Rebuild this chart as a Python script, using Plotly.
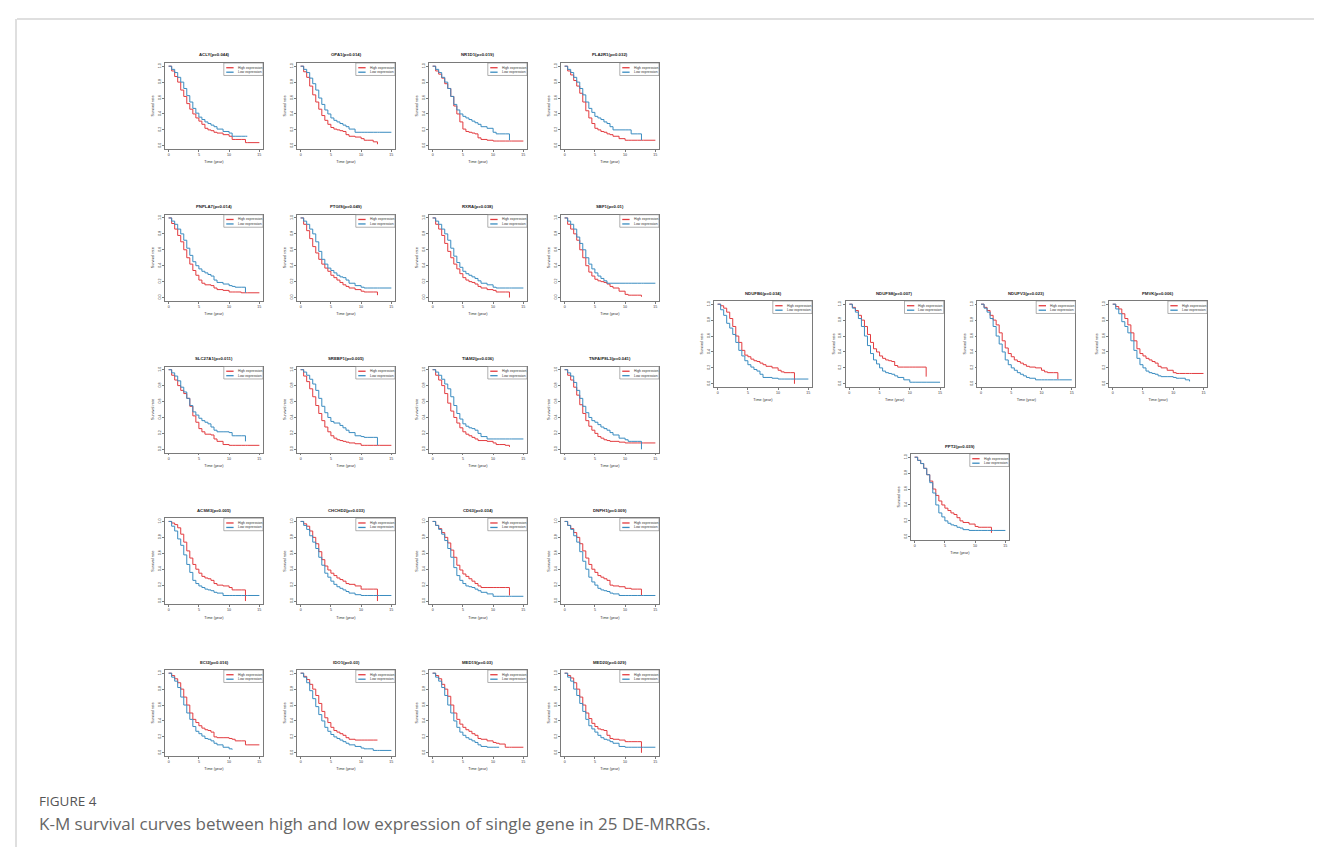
import plotly.graph_objects as go

W, H = 1322, 847

# common time grid (years) on which survival values were read
G = [0, 0.5, 1, 1.5, 2, 2.5, 3, 3.5, 4, 4.5, 5, 5.5, 6, 6.5, 7, 7.5, 8, 9, 10, 10.5, 11, 12, 12.7, 13, 15]

genes = ["ACLY", "OPA1", "NR1D1", "PLA2R1",
         "PNPLA7", "PTGIS", "RXRA", "SBF1",
         "SLC27A1", "SREBF1", "TIAM2", "TNFAIP8L3",
         "ACSM3", "CHCHD2", "CD63", "DNPH1",
         "ECI2", "IDO1", "MED19", "MED20",
         "NDUFB6", "NDUFS8", "NDUFV3", "PMVK", "PPT2"]
pvals = ["0.044", "0.014", "0.019", "0.032",
         "0.014", "0.049", "0.038", "0.01",
         "0.011", "0.005", "0.036", "0.041",
         "0.005", "0.033", "0.034", "0.009",
         "0.016", "0.03", "0.03", "0.029",
         "0.034", "0.007", "0.023", "0.006", "0.039"]

ACLY_high = [1, 0.94, 0.87, 0.80, 0.70, 0.62, 0.53, 0.46, 0.40, 0.35, 0.31, 0.27, 0.22, 0.20, 0.19, 0.17, 0.16, 0.14, 0.12, 0.08, 0.08, 0.08, 0.04, 0.04, 0.04]
ACLY_low = [1, 0.96, 0.92, 0.86, 0.80, 0.72, 0.63, 0.55, 0.47, 0.41, 0.36, 0.33, 0.30, 0.28, 0.26, 0.24, 0.21, 0.18, 0.16, 0.12, 0.12, 0.12, 0.12, 0.12]
OPA1_high = [1, 0.93, 0.86, 0.75, 0.64, 0.55, 0.46, 0.38, 0.32, 0.27, 0.23, 0.21, 0.20, 0.19, 0.18, 0.14, 0.12, 0.11, 0.09, 0.07, 0.07, 0.05, 0.02]
OPA1_low = [1, 0.96, 0.92, 0.85, 0.78, 0.70, 0.60, 0.52, 0.45, 0.40, 0.35, 0.32, 0.30, 0.28, 0.26, 0.24, 0.21, 0.17, 0.17, 0.17, 0.17, 0.17, 0.17, 0.17, 0.17]
NR1D1_high = [1, 0.94, 0.90, 0.85, 0.78, 0.72, 0.62, 0.50, 0.40, 0.30, 0.21, 0.18, 0.17, 0.16, 0.15, 0.10, 0.08, 0.07, 0.06, 0.06, 0.06, 0.06, 0.06, 0.06, 0.06]
NR1D1_low = [1, 0.96, 0.92, 0.86, 0.80, 0.72, 0.62, 0.52, 0.45, 0.40, 0.37, 0.35, 0.33, 0.31, 0.29, 0.27, 0.24, 0.22, 0.17, 0.15, 0.15, 0.15, 0.07]
PLA2R1_high = [1, 0.94, 0.89, 0.82, 0.75, 0.66, 0.55, 0.44, 0.35, 0.28, 0.22, 0.20, 0.18, 0.17, 0.15, 0.14, 0.12, 0.09, 0.07, 0.07, 0.07, 0.07, 0.07, 0.07, 0.07]
PLA2R1_low = [1, 0.96, 0.92, 0.86, 0.80, 0.72, 0.64, 0.55, 0.47, 0.42, 0.37, 0.35, 0.33, 0.30, 0.28, 0.24, 0.20, 0.20, 0.20, 0.20, 0.15, 0.15, 0.07]
PNPLA7_high = [1, 0.93, 0.86, 0.78, 0.70, 0.60, 0.50, 0.42, 0.34, 0.28, 0.22, 0.18, 0.16, 0.16, 0.15, 0.12, 0.10, 0.09, 0.07, 0.07, 0.07, 0.06, 0.06, 0.06, 0.06]
PNPLA7_low = [1, 0.96, 0.92, 0.86, 0.80, 0.72, 0.62, 0.53, 0.45, 0.40, 0.36, 0.33, 0.31, 0.29, 0.27, 0.22, 0.19, 0.17, 0.15, 0.14, 0.13, 0.13, 0.06]
PTGIS_high = [1, 0.92, 0.84, 0.74, 0.64, 0.56, 0.48, 0.42, 0.37, 0.33, 0.28, 0.25, 0.22, 0.19, 0.16, 0.14, 0.12, 0.10, 0.08, 0.07, 0.07, 0.07, 0.03]
PTGIS_low = [1, 0.96, 0.92, 0.86, 0.80, 0.70, 0.58, 0.48, 0.42, 0.37, 0.34, 0.31, 0.28, 0.26, 0.25, 0.22, 0.18, 0.15, 0.13, 0.12, 0.12, 0.12, 0.12, 0.12, 0.12]
RXRA_high = [1, 0.92, 0.86, 0.78, 0.68, 0.58, 0.50, 0.42, 0.36, 0.30, 0.25, 0.22, 0.20, 0.19, 0.17, 0.14, 0.12, 0.10, 0.09, 0.07, 0.07, 0.07, 0.0]
RXRA_low = [1, 0.96, 0.92, 0.86, 0.80, 0.72, 0.62, 0.52, 0.44, 0.38, 0.33, 0.30, 0.28, 0.26, 0.24, 0.21, 0.18, 0.16, 0.13, 0.12, 0.12, 0.12, 0.12, 0.12, 0.12]
SBF1_high = [1, 0.92, 0.86, 0.80, 0.72, 0.60, 0.50, 0.40, 0.32, 0.27, 0.23, 0.21, 0.20, 0.19, 0.17, 0.14, 0.12, 0.08, 0.04, 0.03, 0.03, 0.03, 0.01]
SBF1_low = [1, 0.96, 0.92, 0.86, 0.76, 0.68, 0.60, 0.50, 0.42, 0.36, 0.31, 0.27, 0.24, 0.21, 0.18, 0.18, 0.18, 0.18, 0.18, 0.18, 0.18, 0.18, 0.18, 0.18, 0.18]
SLC27A1_high = [1, 0.93, 0.87, 0.80, 0.74, 0.70, 0.64, 0.54, 0.42, 0.34, 0.26, 0.22, 0.19, 0.19, 0.18, 0.13, 0.10, 0.06, 0.05, 0.05, 0.05, 0.05, 0.05, 0.05, 0.05]
SLC27A1_low = [1, 0.96, 0.92, 0.86, 0.78, 0.72, 0.64, 0.55, 0.47, 0.43, 0.39, 0.36, 0.34, 0.32, 0.28, 0.24, 0.22, 0.22, 0.21, 0.17, 0.17, 0.17, 0.10]
SREBF1_high = [1, 0.92, 0.85, 0.76, 0.66, 0.55, 0.45, 0.36, 0.28, 0.22, 0.17, 0.14, 0.12, 0.11, 0.10, 0.09, 0.08, 0.07, 0.05, 0.05, 0.05, 0.05, 0.05, 0.05, 0.05]
SREBF1_low = [1, 0.97, 0.93, 0.88, 0.82, 0.74, 0.64, 0.54, 0.46, 0.40, 0.35, 0.33, 0.33, 0.30, 0.27, 0.24, 0.21, 0.17, 0.16, 0.15, 0.15, 0.15, 0.05]
TIAM2_high = [1, 0.93, 0.87, 0.80, 0.70, 0.58, 0.48, 0.40, 0.33, 0.27, 0.22, 0.19, 0.17, 0.15, 0.13, 0.11, 0.11, 0.10, 0.08, 0.06, 0.06, 0.05, 0.03]
TIAM2_low = [1, 0.97, 0.93, 0.88, 0.82, 0.76, 0.66, 0.55, 0.45, 0.38, 0.32, 0.29, 0.27, 0.26, 0.24, 0.20, 0.16, 0.13, 0.13, 0.13, 0.13, 0.13, 0.13, 0.13, 0.13]
TNFAIP8L3_high = [1, 0.93, 0.87, 0.78, 0.68, 0.56, 0.45, 0.36, 0.29, 0.24, 0.20, 0.16, 0.14, 0.12, 0.11, 0.10, 0.10, 0.09, 0.08, 0.08, 0.08, 0.08, 0.08, 0.08, 0.08]
TNFAIP8L3_low = [1, 0.96, 0.92, 0.84, 0.74, 0.64, 0.54, 0.46, 0.40, 0.36, 0.34, 0.31, 0.28, 0.26, 0.24, 0.21, 0.18, 0.14, 0.12, 0.10, 0.10, 0.10, 0.0]
ACSM3_high = [1, 0.98, 0.96, 0.92, 0.84, 0.74, 0.63, 0.54, 0.46, 0.40, 0.35, 0.31, 0.29, 0.28, 0.26, 0.22, 0.20, 0.19, 0.17, 0.14, 0.14, 0.14, 0.0]
ACSM3_low = [1, 0.94, 0.88, 0.78, 0.70, 0.58, 0.46, 0.36, 0.26, 0.22, 0.19, 0.17, 0.15, 0.14, 0.13, 0.11, 0.10, 0.07, 0.07, 0.07, 0.07, 0.07, 0.07, 0.07, 0.07]
CHCHD2_high = [1, 0.97, 0.94, 0.88, 0.80, 0.72, 0.62, 0.52, 0.44, 0.39, 0.35, 0.32, 0.29, 0.27, 0.25, 0.22, 0.21, 0.19, 0.15, 0.15, 0.15, 0.15, 0.0]
CHCHD2_low = [1, 0.95, 0.90, 0.82, 0.74, 0.66, 0.55, 0.45, 0.35, 0.30, 0.25, 0.21, 0.18, 0.16, 0.14, 0.12, 0.10, 0.08, 0.07, 0.07, 0.07, 0.07, 0.07, 0.07, 0.07]
CD63_high = [1, 0.95, 0.91, 0.86, 0.80, 0.73, 0.64, 0.55, 0.45, 0.39, 0.34, 0.31, 0.28, 0.25, 0.22, 0.19, 0.17, 0.17, 0.17, 0.17, 0.17, 0.17, 0.07]
CD63_low = [1, 0.95, 0.90, 0.84, 0.76, 0.66, 0.55, 0.42, 0.32, 0.26, 0.22, 0.19, 0.18, 0.17, 0.15, 0.13, 0.11, 0.09, 0.06, 0.06, 0.06, 0.06, 0.06, 0.06, 0.06]
DNPH1_high = [1, 0.95, 0.91, 0.86, 0.80, 0.72, 0.63, 0.54, 0.46, 0.40, 0.36, 0.32, 0.30, 0.28, 0.26, 0.20, 0.19, 0.18, 0.16, 0.16, 0.15, 0.15, 0.07]
DNPH1_low = [1, 0.95, 0.90, 0.82, 0.74, 0.62, 0.50, 0.40, 0.30, 0.24, 0.20, 0.16, 0.14, 0.13, 0.12, 0.10, 0.09, 0.07, 0.07, 0.07, 0.07, 0.07, 0.07, 0.07, 0.07]
ECI2_high = [1, 0.97, 0.93, 0.88, 0.80, 0.70, 0.60, 0.50, 0.42, 0.38, 0.34, 0.31, 0.29, 0.28, 0.26, 0.20, 0.19, 0.19, 0.18, 0.17, 0.15, 0.15, 0.10, 0.10, 0.10]
ECI2_low = [1, 0.95, 0.90, 0.82, 0.70, 0.60, 0.50, 0.42, 0.33, 0.27, 0.24, 0.21, 0.18, 0.17, 0.15, 0.12, 0.10, 0.07, 0.05, 0.04]
IDO1_high = [1, 0.96, 0.92, 0.86, 0.80, 0.72, 0.62, 0.52, 0.44, 0.38, 0.32, 0.28, 0.26, 0.24, 0.22, 0.19, 0.17, 0.16, 0.16, 0.16, 0.16, 0.16, 0.16]
IDO1_low = [1, 0.95, 0.88, 0.78, 0.68, 0.58, 0.48, 0.40, 0.32, 0.27, 0.23, 0.20, 0.18, 0.16, 0.14, 0.12, 0.10, 0.08, 0.06, 0.05, 0.05, 0.03, 0.03, 0.03, 0.03]
MED19_high = [1, 0.97, 0.93, 0.86, 0.80, 0.71, 0.60, 0.50, 0.42, 0.36, 0.32, 0.29, 0.27, 0.24, 0.22, 0.18, 0.17, 0.15, 0.13, 0.12, 0.11, 0.07, 0.07, 0.07, 0.07]
MED19_low = [1, 0.95, 0.90, 0.82, 0.72, 0.60, 0.50, 0.40, 0.32, 0.26, 0.22, 0.19, 0.17, 0.15, 0.13, 0.10, 0.08, 0.07, 0.07, 0.07, 0.07]
MED20_high = [1, 0.97, 0.94, 0.88, 0.80, 0.70, 0.60, 0.50, 0.43, 0.37, 0.33, 0.30, 0.29, 0.28, 0.22, 0.18, 0.17, 0.16, 0.14, 0.14, 0.14, 0.14, 0.0]
MED20_low = [1, 0.95, 0.90, 0.80, 0.72, 0.62, 0.52, 0.42, 0.34, 0.30, 0.26, 0.22, 0.19, 0.17, 0.16, 0.14, 0.12, 0.08, 0.07, 0.07, 0.07, 0.07, 0.07, 0.07, 0.07]
NDUFB6_high = [1, 0.98, 0.95, 0.90, 0.82, 0.72, 0.60, 0.52, 0.42, 0.36, 0.34, 0.31, 0.29, 0.28, 0.26, 0.24, 0.22, 0.20, 0.17, 0.15, 0.14, 0.14, 0.0]
NDUFB6_low = [1, 0.93, 0.86, 0.76, 0.70, 0.62, 0.52, 0.42, 0.35, 0.29, 0.24, 0.21, 0.18, 0.16, 0.12, 0.08, 0.08, 0.07, 0.06, 0.06, 0.06, 0.06, 0.06, 0.06, 0.06]
NDUFS8_high = [1, 0.96, 0.92, 0.86, 0.80, 0.72, 0.62, 0.52, 0.44, 0.40, 0.35, 0.32, 0.30, 0.29, 0.28, 0.23, 0.21, 0.21, 0.21, 0.21, 0.21, 0.21, 0.09]
NDUFS8_low = [1, 0.95, 0.90, 0.82, 0.72, 0.60, 0.48, 0.38, 0.30, 0.25, 0.20, 0.16, 0.14, 0.13, 0.12, 0.10, 0.08, 0.05, 0.02, 0.02, 0.02, 0.02, 0.02, 0.02, 0.02]
NDUFV3_high = [1, 0.96, 0.92, 0.86, 0.80, 0.74, 0.64, 0.54, 0.45, 0.38, 0.34, 0.30, 0.28, 0.26, 0.24, 0.22, 0.21, 0.20, 0.17, 0.15, 0.14, 0.14, 0.06]
NDUFV3_low = [1, 0.95, 0.90, 0.82, 0.72, 0.60, 0.50, 0.40, 0.30, 0.24, 0.20, 0.17, 0.14, 0.12, 0.10, 0.08, 0.07, 0.05, 0.05, 0.05, 0.05, 0.05, 0.05, 0.05, 0.05]
PMVK_high = [1, 0.97, 0.94, 0.88, 0.82, 0.74, 0.64, 0.54, 0.44, 0.38, 0.35, 0.32, 0.30, 0.28, 0.26, 0.22, 0.20, 0.17, 0.14, 0.13, 0.13, 0.13, 0.13, 0.13, 0.13]
PMVK_low = [1, 0.94, 0.88, 0.78, 0.72, 0.64, 0.54, 0.42, 0.32, 0.24, 0.20, 0.16, 0.14, 0.13, 0.12, 0.10, 0.09, 0.09, 0.08, 0.07, 0.07, 0.05, 0.03]
PPT2_high = [1, 0.96, 0.92, 0.86, 0.78, 0.70, 0.60, 0.52, 0.45, 0.40, 0.36, 0.33, 0.30, 0.28, 0.24, 0.20, 0.18, 0.16, 0.13, 0.12, 0.12, 0.12, 0.05]
PPT2_low = [1, 0.96, 0.92, 0.86, 0.78, 0.68, 0.55, 0.40, 0.30, 0.25, 0.20, 0.17, 0.15, 0.14, 0.12, 0.11, 0.09, 0.08, 0.08, 0.08, 0.08, 0.08, 0.08, 0.08, 0.08]

x_ticks = [0, 5, 10, 15]
y_ticks = [0, 0.2, 0.4, 0.6, 0.8, 1.0]
y_ticktext = ["0.0", "0.2", "0.4", "0.6", "0.8", "1.0"]
legend_labels = ["High expression", "Low expression"]

high_curves = {g: globals()[g + "_high"] for g in genes}
low_curves = {g: globals()[g + "_low"] for g in genes}

RED = "#E23B3F"
BLUE = "#3A8CC0"
FRAME = "#7a7a7a"
TXT = "#333333"

# panel placement (pixels)
PW, PH = 98, 86
boxes = []
for r in range(5):
    for c in range(4):
        boxes.append((157 + 132 * c, 55 + 151.75 * r))
for c in range(4):
    boxes.append((706 + 131.7 * c, 293))
boxes.append((903, 446))

fig = go.Figure()
layout = dict(
    width=W, height=H,
    margin=dict(l=0, r=0, t=0, b=0),
    paper_bgcolor="white", plot_bgcolor="white",
    showlegend=False,
)
annotations = []
shapes = []

for i, g in enumerate(genes):
    n = i + 1
    sfx = "" if n == 1 else str(n)
    left, top = boxes[i]
    x0, x1 = left / W, (left + PW) / W
    y0, y1 = 1 - (top + PH) / H, 1 - top / H
    hi = high_curves[g]
    lo = low_curves[g]
    fig.add_trace(go.Scatter(x=G[:len(hi)], y=hi, mode="lines", line=dict(color=RED, width=1, shape="hv"),
                             xaxis="x" + sfx, yaxis="y" + sfx, hoverinfo="skip"))
    fig.add_trace(go.Scatter(x=G[:len(lo)], y=lo, mode="lines", line=dict(color=BLUE, width=1, shape="hv"),
                             xaxis="x" + sfx, yaxis="y" + sfx, hoverinfo="skip"))
    layout["xaxis" + sfx] = dict(
        domain=[x0, x1], anchor="y" + sfx, range=[-0.6, 15.6],
        tickvals=x_ticks, ticks="outside", ticklen=2, tickwidth=0.6, tickcolor=FRAME,
        showline=True, mirror=True, linecolor=FRAME, linewidth=0.8,
        showgrid=False, zeroline=False,
        tickfont=dict(size=3.6, color=TXT, family="Liberation Sans"),
        title=dict(text="Time (year)", font=dict(size=3.8, color=TXT, family="Liberation Sans"), standoff=4),
    )
    layout["yaxis" + sfx] = dict(
        domain=[y0, y1], anchor="x" + sfx, range=[-0.04, 1.04],
        tickvals=y_ticks, ticktext=y_ticktext, tickangle=-90,
        ticks="outside", ticklen=2, tickwidth=0.6, tickcolor=FRAME,
        showline=True, mirror=True, linecolor=FRAME, linewidth=0.8,
        showgrid=False, zeroline=False,
        tickfont=dict(size=3.6, color=TXT, family="Liberation Sans"),
        title=dict(text="Survival rate", font=dict(size=3.8, color=TXT, family="Liberation Sans"), standoff=3),
    )
    # panel title
    annotations.append(dict(
        text="<b>%s(p=%s)</b>" % (g, pvals[i]),
        xref="paper", yref="paper", x=(left + PW / 2) / W, y=1 - (top - 8) / H,
        showarrow=False, font=dict(size=4.3, color="#222", family="Liberation Sans"),
        xanchor="center", yanchor="middle"))
    # legend box
    xd, yd = "x" + sfx + " domain", "y" + sfx + " domain"
    shapes.append(dict(type="rect", xref=xd, yref=yd, x0=0.60, x1=1.0, y0=0.855, y1=1.0,
                       line=dict(color=FRAME, width=0.6), fillcolor="white", layer="above"))
    for k, (lab, col) in enumerate(zip(legend_labels, [RED, BLUE])):
        yy = 0.945 - 0.052 * k
        shapes.append(dict(type="line", xref=xd, yref=yd, x0=0.625, x1=0.70, y0=yy, y1=yy,
                           line=dict(color=col, width=1.3), layer="above"))
        annotations.append(dict(text=lab, xref=xd, yref=yd, x=0.72, y=yy, showarrow=False,
                                xanchor="left", yanchor="middle",
                                font=dict(size=3.4, color=TXT, family="Liberation Sans")))

# outer frame lines of the page
shapes.append(dict(type="line", xref="paper", yref="paper", x0=9 / W, x1=1, y0=1 - 11 / H, y1=1 - 11 / H,
                   line=dict(color="#d4d4d4", width=1.5)))
shapes.append(dict(type="line", xref="paper", yref="paper", x0=8 / W, x1=8 / W, y0=0, y1=1 - 11 / H,
                   line=dict(color="#d4d4d4", width=1.5)))

annotations.append(dict(text="FIGURE 4", xref="paper", yref="paper", x=29 / W, y=1 - 793 / H,
                        showarrow=False, xanchor="left", yanchor="middle",
                        font=dict(size=13.5, color="#555555", family="Open Sans")))
annotations.append(dict(text="K-M survival curves between high and low expression of single gene in 25 DE-MRRGs.",
                        xref="paper", yref="paper", x=29 / W, y=1 - 815 / H,
                        showarrow=False, xanchor="left", yanchor="middle",
                        font=dict(size=17, color="#666666", family="Open Sans")))

layout["annotations"] = annotations
layout["shapes"] = shapes
fig.update_layout(**layout)
fig.write_html("out.html")
